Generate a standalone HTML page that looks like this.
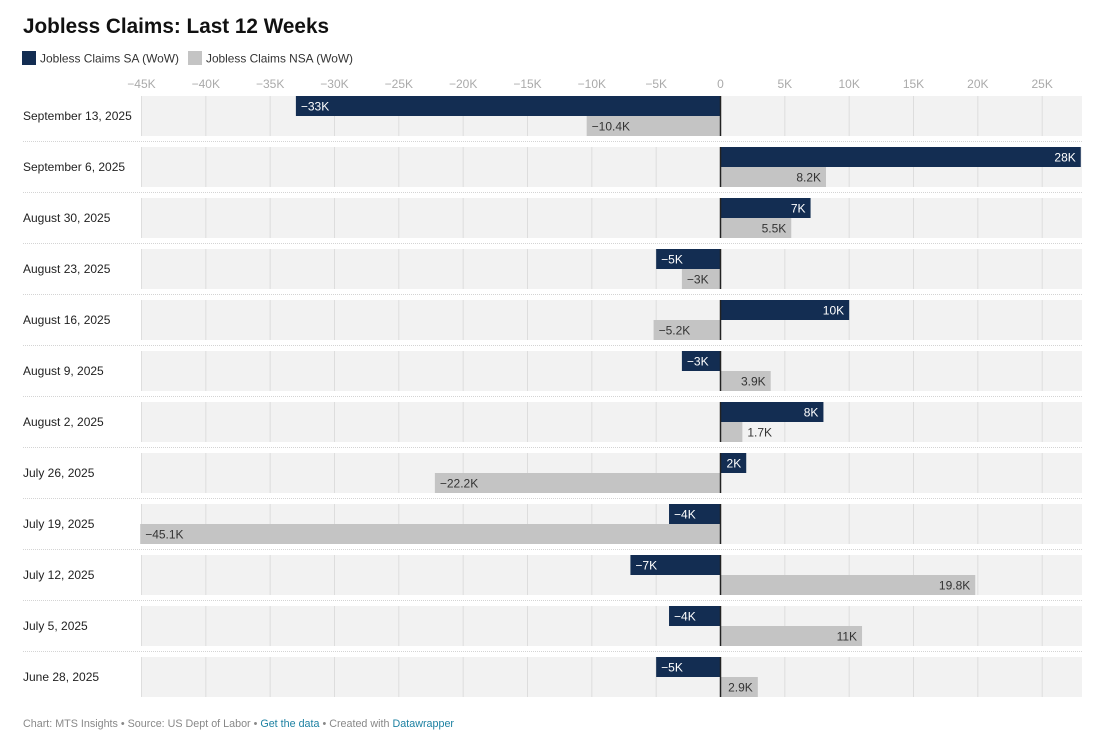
<!DOCTYPE html>
<html><head><meta charset="utf-8">
<style>
html,body{margin:0;padding:0;background:#fff;width:1100px;height:734px;overflow:hidden;font-family:"Liberation Sans",Arial,sans-serif;}
svg text{font-family:"Liberation Sans",Arial,sans-serif;}
</style></head>
<body>
<svg id="c" width="1100" height="734" xmlns="http://www.w3.org/2000/svg">
<text x="23" y="33" font-size="21" font-weight="bold" fill="#111" textLength="306" lengthAdjust="spacingAndGlyphs">Jobless Claims: Last 12 Weeks</text>
<rect x="22" y="51" width="14" height="14" fill="#132d52"/>
<text x="40" y="62.5" font-size="12" fill="#333" textLength="139" lengthAdjust="spacingAndGlyphs">Jobless Claims SA (WoW)</text>
<rect x="188" y="51" width="14" height="14" fill="#c4c4c4"/>
<text x="206" y="62.5" font-size="12" fill="#333" textLength="147" lengthAdjust="spacingAndGlyphs">Jobless Claims NSA (WoW)</text>
<text x="23" y="727" font-size="11" fill="#888" textLength="431" lengthAdjust="spacingAndGlyphs">Chart: MTS Insights • Source: US Dept of Labor • <tspan fill="#1d81a2">Get the data</tspan> • Created with <tspan fill="#1d81a2">Datawrapper</tspan></text>
</svg>
<script>
var s=document.getElementById('c'),NS='http://www.w3.org/2000/svg';
function el(t,a,txt){var e=document.createElementNS(NS,t);for(var k in a)e.setAttribute(k,a[k]);if(txt!=null)e.textContent=txt;s.appendChild(e);return e;}
function X(v){return 720.5+v*12.867;}
var d=[["September 13, 2025",-33,-10.4],["September 6, 2025",28,8.2],["August 30, 2025",7,5.5],["August 23, 2025",-5,-3],["August 16, 2025",10,-5.2],["August 9, 2025",-3,3.9],["August 2, 2025",8,1.7],["July 26, 2025",2,-22.2],["July 19, 2025",-4,-45.1],["July 12, 2025",-7,19.8],["July 5, 2025",-4,11],["June 28, 2025",-5,2.9]];
for(var v=-45;v<=25;v+=5){el('text',{x:X(v),y:88,'font-size':12,fill:'#aaa','text-anchor':'middle'},v==0?'0':(v<0?'\u2212'+(-v)+'K':v+'K'));}
d.forEach(function(r,i){
 var y=96+i*51;
 el('rect',{x:141,y:y,width:941,height:40,fill:'#f2f2f2'});
 if(i<11)el('line',{x1:23,x2:1082,y1:y+45.5,y2:y+45.5,stroke:'#d4d4d4','stroke-dasharray':'1,1'});
 el('text',{x:23,y:y+24,'font-size':12,fill:'#222'},r[0]);
});
d.forEach(function(r,i){var y=96+i*51;for(var v=-45;v<=25;v+=5){if(v==0)continue;el('line',{x1:X(v),x2:X(v),y1:y,y2:y+40,stroke:'#ddd','stroke-width':1});}});
function fmt(v){var a=Math.abs(v);return (v<0?'\u2212':'')+a+'K';}
d.forEach(function(r,i){
 var y=96+i*51;
 [[r[1],'#132d52','#fff',0],[r[2],'#c4c4c4','#333',20]].forEach(function(b){
  var v=b[0],x0=Math.min(X(0),X(v)),w=Math.abs(X(v)-X(0));
  el('rect',{x:x0,y:y+b[3],width:w,height:20,fill:b[1]});
  var t=fmt(v),tw=t.length*6.8+8;
  var ty=y+b[3]+14.5;
  if(v<0){ if(w>=tw) el('text',{x:x0+5,y:ty,'font-size':12,fill:b[2]},t); else el('text',{x:x0-5,y:ty,'font-size':12,fill:'#333','text-anchor':'end'},t);}
  else { if(w>=tw) el('text',{x:x0+w-5,y:ty,'font-size':12,fill:b[2],'text-anchor':'end'},t); else el('text',{x:x0+w+5,y:ty,'font-size':12,fill:'#333'},t);}
 });
 el('line',{x1:720.5,x2:720.5,y1:y,y2:y+40,stroke:'#222','stroke-width':1.5});
});
</script>
</body></html>
